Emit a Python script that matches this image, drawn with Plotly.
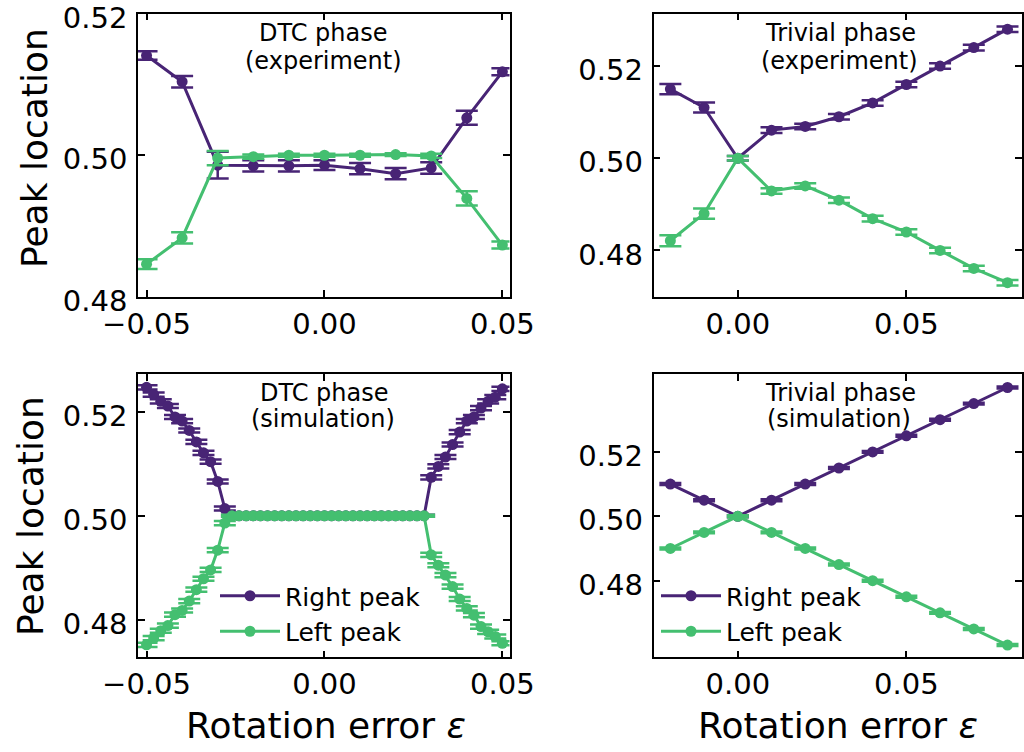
import plotly.graph_objects as go

PURPLE = "#482475"
GREEN = "#44bf70"
FONT = "DejaVu Sans"

# ---- DTC phase, experiment ----
eps_dtc_exp = [-0.05, -0.04, -0.03, -0.02, -0.01, 0.00, 0.01, 0.02, 0.03, 0.04, 0.05]
right_dtc_exp = [0.5141, 0.5104, 0.4986, 0.4985, 0.4985, 0.4986, 0.4981, 0.4974, 0.4982, 0.5053, 0.5118]
right_dtc_exp_err = [0.0006, 0.0008, 0.0019, 0.0008, 0.0008, 0.0007, 0.0008, 0.0008, 0.0008, 0.0010, 0.0005]
left_dtc_exp = [0.4846, 0.4883, 0.4996, 0.4998, 0.5000, 0.5000, 0.5000, 0.5001, 0.4999, 0.4939, 0.4873]
left_dtc_exp_err = [0.0007, 0.0008, 0.0010, 0.0003, 0.0002, 0.0002, 0.0002, 0.0002, 0.0003, 0.0010, 0.0005]

# ---- Trivial phase, experiment ----
eps_triv_exp = [-0.02, -0.01, 0.00, 0.01, 0.02, 0.03, 0.04, 0.05, 0.06, 0.07, 0.08]
right_triv_exp = [0.5150, 0.5110, 0.5000, 0.5061, 0.5069, 0.5090, 0.5120, 0.5160, 0.5200, 0.5240, 0.5280]
right_triv_exp_err = [0.0011, 0.0011, 0.0005, 0.0006, 0.0006, 0.0006, 0.0006, 0.0006, 0.0006, 0.0006, 0.0006]
left_triv_exp = [0.4821, 0.4880, 0.5000, 0.4929, 0.4940, 0.4909, 0.4869, 0.4840, 0.4800, 0.4761, 0.4730]
left_triv_exp_err = [0.0012, 0.0011, 0.0005, 0.0006, 0.0006, 0.0006, 0.0006, 0.0006, 0.0006, 0.0006, 0.0006]

# ---- DTC phase, simulation ----
eps_dtc_sim = [
    -0.050, -0.048, -0.046, -0.044, -0.042, -0.040, -0.038, -0.036, -0.034, -0.032,
    -0.030, -0.028, -0.026, -0.024, -0.022, -0.020, -0.018, -0.016, -0.014, -0.012,
    -0.010, -0.008, -0.006, -0.004, -0.002, 0.000, 0.002, 0.004, 0.006, 0.008,
    0.010, 0.012, 0.014, 0.016, 0.018, 0.020, 0.022, 0.024, 0.026, 0.028,
    0.030, 0.032, 0.034, 0.036, 0.038, 0.040, 0.042, 0.044, 0.046, 0.048, 0.050,
]
right_dtc_sim = [
    0.5247, 0.5233, 0.5220, 0.5211, 0.5190, 0.5182, 0.5164, 0.5142, 0.5121, 0.5104,
    0.5066, 0.5014, 0.5000, 0.5000, 0.5000, 0.5000, 0.5000, 0.5000, 0.5000, 0.5000,
    0.5000, 0.5000, 0.5000, 0.5000, 0.5000, 0.5000, 0.5000, 0.5000, 0.5000, 0.5000,
    0.5000, 0.5000, 0.5000, 0.5000, 0.5000, 0.5000, 0.5000, 0.5000, 0.5000, 0.5000,
    0.5074, 0.5095, 0.5113, 0.5137, 0.5161, 0.5182, 0.5190, 0.5207, 0.5220, 0.5228, 0.5244,
]
left_dtc_sim = [
    0.4752, 0.4765, 0.4779, 0.4789, 0.4810, 0.4818, 0.4836, 0.4858, 0.4879, 0.4896,
    0.4934, 0.4986, 0.5000, 0.5000, 0.5000, 0.5000, 0.5000, 0.5000, 0.5000, 0.5000,
    0.5000, 0.5000, 0.5000, 0.5000, 0.5000, 0.5000, 0.5000, 0.5000, 0.5000, 0.5000,
    0.5000, 0.5000, 0.5000, 0.5000, 0.5000, 0.5000, 0.5000, 0.5000, 0.5000, 0.5000,
    0.4925, 0.4905, 0.4886, 0.4864, 0.4840, 0.4822, 0.4809, 0.4787, 0.4777, 0.4768, 0.4755,
]
dtc_sim_err = [
    0.0004, 0.0004, 0.0004, 0.0004, 0.0004, 0.0004, 0.0004, 0.0004, 0.0004, 0.0004,
    0.0004, 0.0004, 0.0002, 0.0002, 0.0002, 0.0002, 0.0002, 0.0002, 0.0002, 0.0002,
    0.0002, 0.0002, 0.0002, 0.0002, 0.0002, 0.0002, 0.0002, 0.0002, 0.0002, 0.0002,
    0.0002, 0.0002, 0.0002, 0.0002, 0.0002, 0.0002, 0.0002, 0.0002, 0.0002, 0.0002,
    0.0004, 0.0004, 0.0004, 0.0004, 0.0004, 0.0004, 0.0004, 0.0004, 0.0004, 0.0004, 0.0004,
]

# ---- Trivial phase, simulation ----
eps_triv_sim = [-0.02, -0.01, 0.00, 0.01, 0.02, 0.03, 0.04, 0.05, 0.06, 0.07, 0.08]
right_triv_sim = [0.510, 0.505, 0.500, 0.505, 0.510, 0.515, 0.520, 0.525, 0.530, 0.535, 0.540]
left_triv_sim = [0.490, 0.495, 0.500, 0.495, 0.490, 0.485, 0.480, 0.475, 0.470, 0.465, 0.460]
triv_sim_err = [0.0003, 0.0003, 0.0003, 0.0003, 0.0003, 0.0003, 0.0003, 0.0003, 0.0003, 0.0003, 0.0003]

y_ticks = [0.48, 0.50, 0.52]
y_ticktext = ["0.48", "0.50", "0.52"]
x_ticks_dtc = [-0.05, 0.00, 0.05]
x_ticktext_dtc = ["\u22120.05", "0.00", "0.05"]
x_ticks_triv = [0.00, 0.05]
x_ticktext_triv = ["0.00", "0.05"]

fig = go.Figure()


def add_pair(x, r, rerr, l, lerr, n, legend=None):
    xa = "x" if n == 1 else f"x{n}"
    ya = "y" if n == 1 else f"y{n}"
    for y, err, color, name in ((r, rerr, PURPLE, "Right peak"), (l, lerr, GREEN, "Left peak")):
        fig.add_trace(go.Scatter(
            x=x, y=y, mode="lines+markers", name=name,
            error_y=dict(type="data", array=err, visible=True, color=color,
                         thickness=2.5, width=11),
            line=dict(color=color, width=3),
            marker=dict(color=color, size=11),
            xaxis=xa, yaxis=ya,
            showlegend=legend is not None,
            legend=legend if legend else "legend",
        ))


add_pair(eps_dtc_exp, right_dtc_exp, right_dtc_exp_err, left_dtc_exp, left_dtc_exp_err, 1)
add_pair(eps_triv_exp, right_triv_exp, right_triv_exp_err, left_triv_exp, left_triv_exp_err, 2)
add_pair(eps_dtc_sim, right_dtc_sim, dtc_sim_err, left_dtc_sim, dtc_sim_err, 3, legend="legend")
add_pair(eps_triv_sim, right_triv_sim, triv_sim_err, left_triv_sim, triv_sim_err, 4, legend="legend2")

W, H = 1024, 752
left_dom = [138 / W, 509.5 / W]
right_dom = [653.5 / W, 1022 / W]
top_dom = [1 - 297 / H, 1 - 13.5 / H]
bot_dom = [1 - 657.3 / H, 1 - 374.3 / H]

axis_style = dict(
    showline=True, linecolor="black", linewidth=1.5, mirror="allticks",
    ticks="inside", ticklen=7, tickwidth=1.5, tickcolor="black",
    showgrid=False, zeroline=False, automargin=False,
    ticklabeloverflow="allow",
    tickfont=dict(family=FONT, size=29, color="black"),
)


def xaxis(dom, rng, vals, text, anchor):
    return dict(axis_style, domain=dom, range=rng, tickvals=vals, ticktext=text, anchor=anchor)


def yaxis(dom, rng, anchor):
    return dict(axis_style, domain=dom, range=rng, tickvals=y_ticks, ticktext=y_ticktext,
                anchor=anchor, ticklabelstandoff=3, ticklabelshift=4)


def px_x(p):
    return p / W


def px_y(p):
    return 1 - p / H


annotations = []


def label(text, x, y, size=24, angle=0):
    annotations.append(dict(
        text=text, x=px_x(x), y=px_y(y), xref="paper", yref="paper",
        xanchor="center", yanchor="middle", showarrow=False, textangle=angle,
        font=dict(family=FONT, size=size, color="black"),
    ))


label("DTC phase", 323, 33)
label("(experiment)", 323, 61)
label("Trivial phase", 840, 33)
label("(experiment)", 839, 61)
label("DTC phase", 324, 393)
label("(simulation)", 323, 419)
label("Trivial phase", 840, 393)
label("(simulation)", 839, 419)
label("Peak location", 35, 148, size=36, angle=-90)
label("Peak location", 30, 516, size=36, angle=-90)
label("Rotation error <i>ε</i>", 326, 725, size=36)
label("Rotation error <i>ε</i>", 838, 725, size=36)

legend_style = dict(
    bgcolor="rgba(0,0,0,0)", borderwidth=0,
    font=dict(family=FONT, size=25, color="black"),
    xanchor="left", yanchor="top", itemwidth=60,
)

fig.update_layout(
    width=W, height=H,
    margin=dict(l=0, r=0, t=0, b=0, autoexpand=False),
    paper_bgcolor="white", plot_bgcolor="white",
    font=dict(family=FONT, color="black"),
    xaxis=xaxis(left_dom, [-0.0524, 0.0520], x_ticks_dtc, x_ticktext_dtc, "y"),
    yaxis=yaxis(top_dom, [0.47995, 0.52005], "x"),
    xaxis2=xaxis(right_dom, [-0.025, 0.0843], x_ticks_triv, x_ticktext_triv, "y2"),
    yaxis2=yaxis(top_dom, [0.4699, 0.5314], "x2"),
    xaxis3=xaxis(left_dom, [-0.0524, 0.0520], x_ticks_dtc, x_ticktext_dtc, "y3"),
    yaxis3=yaxis(bot_dom, [0.4728, 0.5272], "x3"),
    xaxis4=xaxis(right_dom, [-0.025, 0.0843], x_ticks_triv, x_ticktext_triv, "y4"),
    yaxis4=yaxis(bot_dom, [0.4562, 0.5441], "x4"),
    legend=dict(legend_style, x=px_x(215), y=px_y(573)),
    legend2=dict(legend_style, x=px_x(656), y=px_y(573)),
    annotations=annotations,
    showlegend=True,
)

fig.write_html("out.html")
